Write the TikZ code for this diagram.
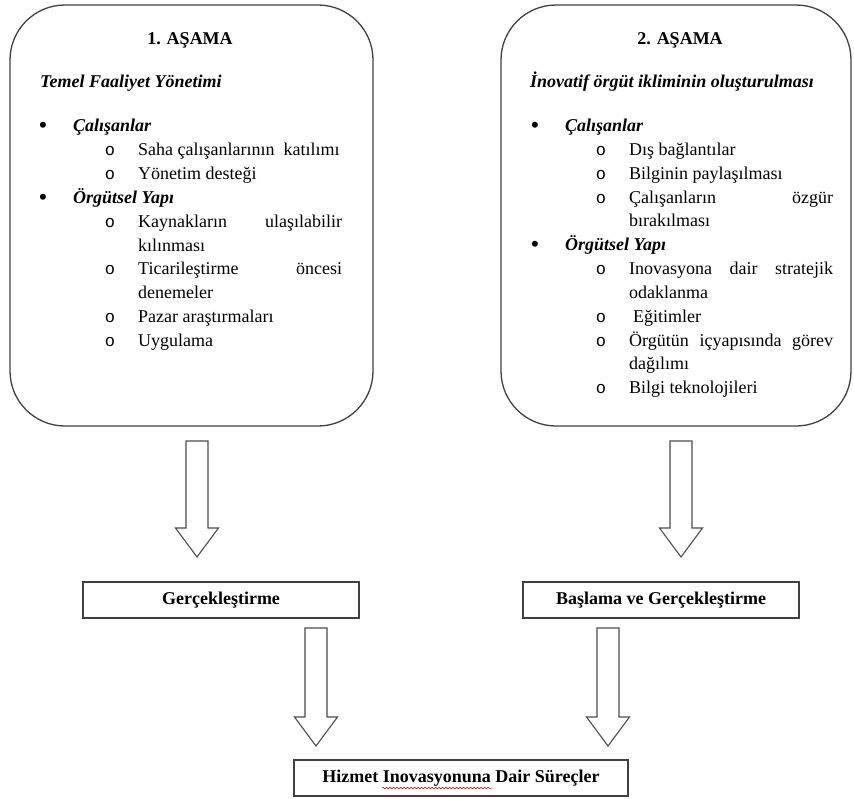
\documentclass[tikz,border=0pt]{standalone}
\usepackage{fontspec}
\setmainfont{Liberation Serif}
\setmonofont{Liberation Mono}
\usetikzlibrary{calc,decorations.pathmorphing}

\newcommand{\bodysize}{\fontsize{18}{23.8}\selectfont}

\tikzset{
  stagebox/.style={draw=black!75, line width=1.3pt, rounded corners=55pt, inner sep=0pt},
  plainbox/.style={draw=black!75, line width=1.5pt, inner sep=0pt, font=\bodysize\bfseries},
  arrowline/.style={draw=black!70, line width=1.1pt, line join=miter, fill=white},
  txt/.style={inner sep=0pt, anchor=base west, font=\bodysize},
  head/.style={txt, font=\bodysize\bfseries\itshape},
  ttl/.style={inner sep=0pt, anchor=base, font=\bodysize\bfseries},
  bul/.style={inner sep=0pt, anchor=base, yshift=-2pt, font=\fontsize{25}{26}\selectfont},
  circ/.style={inner sep=0pt, anchor=base, font=\fontsize{17}{23.8}\selectfont\ttfamily},
  wavy/.style={draw=red!85!black, line width=0.5pt, decorate,
    decoration={snake, amplitude=0.9pt, segment length=3.5pt}}
}

% hollow block arrow from #1 (top of shaft) to #2 (tip)
\newcommand{\blockarrow}[2]{%
  \draw[arrowline] let \p1=(#1), \p2=(#2) in
    (\x1-11pt,\y1) -- (\x1+11pt,\y1) -- (\x1+11pt,\y2+29pt) -- (\x1+21.5pt,\y2+29pt)
    -- (\x2,\y2) -- (\x1-21.5pt,\y2+29pt) -- (\x1-11pt,\y2+29pt) -- cycle;}

\begin{document}
\begin{tikzpicture}[x=1pt, y=-1pt]
\useasboundingbox (0,0) rectangle (854,798);

% stage frames
\node[stagebox, minimum width=363pt, minimum height=421pt] (stageA) at (191.5,215.5) {};
\node[stagebox, minimum width=350pt, minimum height=421pt] (stageB) at (676,215.5) {};

% ---- stage 1 ----
\node[ttl] (tA) at (190,44) {1. AŞAMA};
\node[head] (sA) at (40,87) {Temel Faaliyet Yönetimi};
\node[bul] (bA1) at (43,131) {\textbullet};
\node[head] (hA1) at (73,131) {Çalışanlar};
\node[circ] (cA1) at (110,155) {o};
\node[txt] (iA1) at (138,155) {Saha çalışanlarının\ \ katılımı};
\node[circ] (cA2) at (110,179) {o};
\node[txt] (iA2) at (138,179) {Yönetim desteği};
\node[bul] (bA2) at (43,203) {\textbullet};
\node[head] (hA2) at (73,203) {Örgütsel Yapı};
\node[circ] (cA3) at (110,227) {o};
\node[txt] (iA3) at (138,227) {\hbox to 204pt{Kaynakların\hfill ulaşılabilir}};
\node[txt] (iA3b) at (138,251) {kılınması};
\node[circ] (cA4) at (110,274) {o};
\node[txt] (iA4) at (138,274) {\hbox to 204pt{Ticarileştirme\hfill öncesi}};
\node[txt] (iA4b) at (138,298) {denemeler};
\node[circ] (cA5) at (110,322) {o};
\node[txt] (iA5) at (138,322) {Pazar araştırmaları};
\node[circ] (cA6) at (110,346) {o};
\node[txt] (iA6) at (138,346) {Uygulama};

% ---- stage 2 ----
\node[ttl] (tB) at (680,44) {2. AŞAMA};
\node[head] (sB) at (530,87) {İnovatif örgüt ikliminin oluşturulması};
\node[bul] (bB1) at (535,131) {\textbullet};
\node[head] (hB1) at (565,131) {Çalışanlar};
\node[circ] (cB1) at (601,155) {o};
\node[txt] (jB1) at (629,155) {Dış bağlantılar};
\node[circ] (cB2) at (601,179) {o};
\node[txt] (jB2) at (629,179) {Bilginin paylaşılması};
\node[circ] (cB3) at (601,203) {o};
\node[txt] (jB3) at (629,203) {\hbox to 204pt{Çalışanların\hfill özgür}};
\node[txt] (jB3b) at (629,226) {bırakılması};
\node[bul] (bB2) at (535,250) {\textbullet};
\node[head] (hB2) at (565,250) {Örgütsel Yapı};
\node[circ] (cB4) at (601,274) {o};
\node[txt] (jB4) at (629,274) {\hbox to 204pt{Inovasyona\hfill dair\hfill stratejik}};
\node[txt] (jB4b) at (629,298) {odaklanma};
\node[circ] (cB5) at (601,322) {o};
\node[txt] (jB5) at (633,322) {Eğitimler};
\node[circ] (cB6) at (601,346) {o};
\node[txt] (jB6) at (629,346) {\hbox to 204pt{Örgütün\hfill içyapısında\hfill görev}};
\node[txt] (jB6b) at (629,369) {dağılımı};
\node[circ] (cB7) at (601,393) {o};
\node[txt] (jB7) at (629,393) {Bilgi teknolojileri};

% ---- result boxes ----
\node[plainbox, minimum width=276pt, minimum height=36pt] (real) at (221,600) {Gerçekleştirme};
\node[plainbox, minimum width=276pt, minimum height=36pt] (start) at (661,600) {Başlama ve Gerçekleştirme};
\node[plainbox, minimum width=334pt, minimum height=36pt] (proc) at (461,778) {Hizmet Inovasyonuna Dair Süreçler};

% spell-check mark under one word
\coordinate (wS) at (382,788);
\coordinate (wE) at (492,788);
\draw[wavy] (wS) -- (wE);

% ---- block arrows ----
\coordinate (aAs) at (197,441);  \coordinate (aAe) at (197,557);
\coordinate (aBs) at (681,441);  \coordinate (aBe) at (681,557);
\coordinate (aCs) at (316,628);  \coordinate (aCe) at (316,746);
\coordinate (aDs) at (608,628);  \coordinate (aDe) at (608,746);
\blockarrow{aAs}{aAe}
\blockarrow{aBs}{aBe}
\blockarrow{aCs}{aCe}
\blockarrow{aDs}{aDe}
\end{tikzpicture}
\end{document}
